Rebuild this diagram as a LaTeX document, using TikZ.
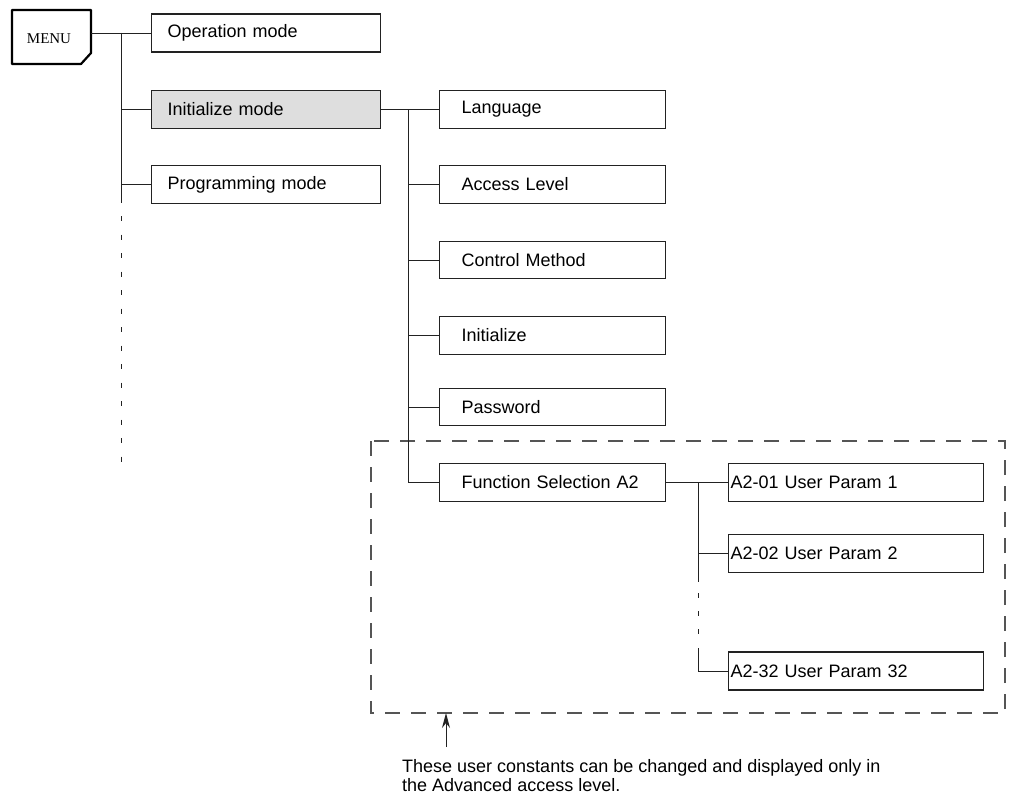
\documentclass[tikz,border=0pt]{standalone}
\usepackage{fontspec}
\setmainfont{Liberation Sans}
\newfontfamily\menufont{Liberation Serif}
\usetikzlibrary{arrows.meta}
\definecolor{boxgray}{HTML}{DEDEDE}
\definecolor{linec}{HTML}{222222}
\definecolor{dashc}{HTML}{555555}
\tikzset{
  lbl/.style={font=\fontsize{18}{20}\selectfont},
  boxA/.style={lbl, draw=linec, line width=1.2pt, rectangle, anchor=west,
    minimum height=38pt, inner ysep=0pt, inner xsep=16pt, text width=197pt, align=left},
  boxB/.style={lbl, draw=linec, line width=1.2pt, rectangle, anchor=west,
    minimum height=37.5pt, inner ysep=0pt, inner xsep=22pt, text width=182pt, align=left},
  boxC/.style={lbl, draw=linec, line width=1.2pt, rectangle, anchor=west,
    minimum height=38pt, inner ysep=0pt, inner xsep=2pt, text width=251pt, align=left},
  conn/.style={draw=linec, line width=0.9pt},
  dotconn/.style={conn, dash pattern=on 5pt off 13.5pt},
  region/.style={draw=dashc, line width=1.2pt, dash pattern=on 15pt off 11pt},
}
\begin{document}
\begin{tikzpicture}[x=1pt,y=-1pt]
\useasboundingbox (0,0) rectangle (1010,797);
% MENU
\draw[line width=2.2pt, line join=round] (12,10) -- (91,10) -- (91,53) -- (81,64) -- (12,64) -- cycle;
\node[inner sep=0pt, minimum width=79pt, minimum height=54pt] (menu) at (51.5,37) {};
\node[font=\menufont\fontsize{15}{17}\selectfont, inner sep=0pt] (menutxt) at (49,39) {MENU};
\coordinate (menuout) at (91,33);
% level 1
\node[boxA] (op) at (151,33) {Operation mode};
\node[boxA, fill=boxgray] (init) at (151,109.5) {Initialize mode};
\node[boxA] (prog) at (151,184.5) {Programming mode};
% level 2
\node[boxB] (lang) at (439,109.5) {Language};
\node[boxB] (acc) at (439,184.5) {Access Level};
\node[boxB] (ctrl) at (439,260) {Control Method};
\node[boxB] (ini) at (439,335.5) {Initialize};
\node[boxB] (pw) at (439,407) {Password};
\node[boxB] (fs) at (439,482.5) {Function Selection A2};
% level 3
\node[boxC] (p1) at (728,482.5) {A2-01 User Param 1};
\node[boxC] (p2) at (728,553.5) {A2-02 User Param 2};
\node[boxC] (p32) at (728,671) {A2-32 User Param 32};
% dashed region
\draw[region] (371,441) rectangle (1005,713);
\coordinate (regbot) at (446,713);
% connectors level 1
\coordinate (t1) at (121,33);
\draw[conn] (menuout) -- (op.west);
\draw[conn] (t1) |- (init.west);
\draw[conn] (t1) |- (prog.west);
\coordinate (t1b) at (121,203);
\draw[conn] (t1 |- prog.west) -- (t1b);
\coordinate (t1c) at (121,216);
\coordinate (t1d) at (121,472);
\draw[dotconn] (t1c) -- (t1d);
% connectors level 2
\coordinate (t2) at (408,109.5);
\draw[conn] (init.east) -- (lang.west);
\draw[conn] (t2) |- (acc.west);
\draw[conn] (t2) |- (ctrl.west);
\draw[conn] (t2) |- (ini.west);
\draw[conn] (t2) |- (pw.west);
\draw[conn] (t2) |- (fs.west);
% connectors level 3
\coordinate (t3) at (698,482.5);
\draw[conn] (fs.east) -- (p1.west);
\draw[conn] (t3) |- (p2.west);
\coordinate (t3a) at (698,582);
\coordinate (t3b) at (698,593);
\coordinate (t3c) at (698,640);
\coordinate (t3d) at (698,648);
\draw[conn] (t3 |- p2.west) -- (t3a);
\draw[conn, dash pattern=on 5pt off 13pt] (t3b) -- (t3c);
\draw[conn] (t3d) |- (p32.west);
% note
\node[lbl, anchor=north west, inner sep=0pt, align=left, font=\fontsize{18}{19.5}\selectfont] (note) at (402,759)
  {These user constants can be changed and displayed only in\\the Advanced access level.};
\coordinate (arrstart) at (446,747);
\draw[conn, line width=1pt, -{Stealth[length=15pt,width=8pt]}] (arrstart) -- (regbot);
\end{tikzpicture}
\end{document}
